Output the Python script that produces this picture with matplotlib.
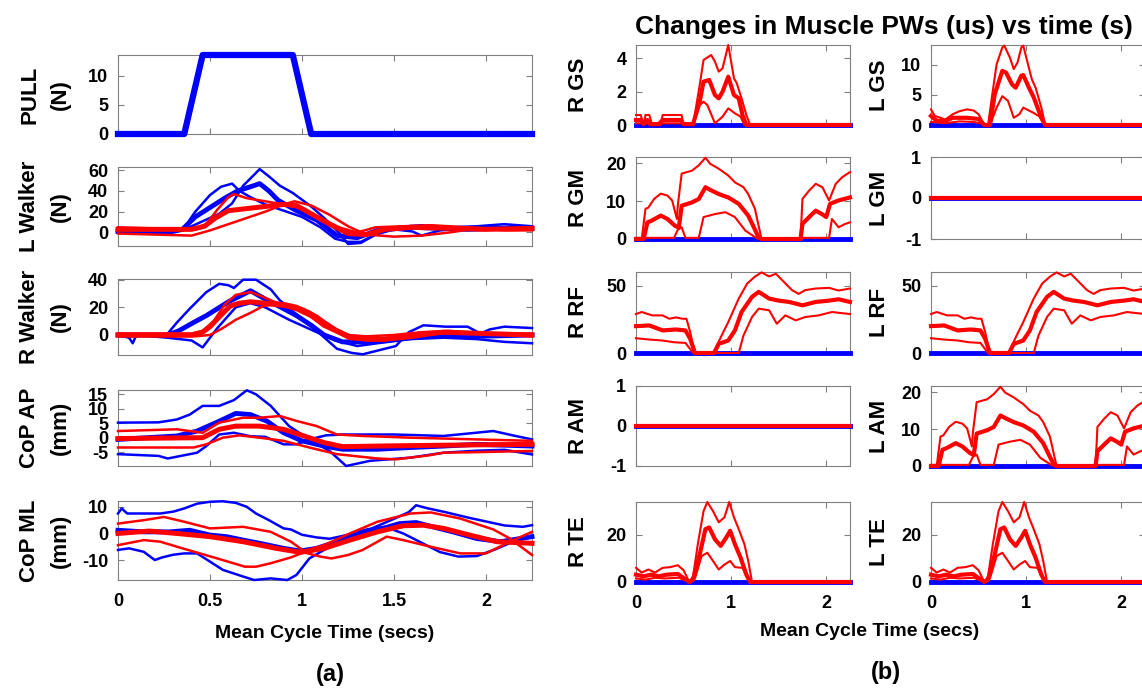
import matplotlib
matplotlib.use("Agg")
import matplotlib.pyplot as plt

plt.rcParams['font.family'] = ['Liberation Sans', 'DejaVu Sans']
plt.rcParams['font.weight'] = 'bold'
plt.rcParams['axes.unicode_minus'] = False

# ---------------- data: panel (a) ----------------
pull_t = [0, 0.36, 0.46, 0.95, 1.05, 2.25]
pull_v = [0, 0, 13.6, 13.6, 0, 0]

# L Walker (N)
lw_bm_t = [0, 0.15, 0.3, 0.35, 0.42, 0.5, 0.58, 0.65, 0.72, 0.77, 0.82, 0.87, 0.97, 1.08, 1.19, 1.3, 1.41, 1.59, 1.75, 1.9, 2.05, 2.25]
lw_bm_v = [1, 0, 1, 3, 15, 24, 33, 40, 44, 47, 40, 31, 21, 12, -3, -5, 2, 5, 4, 3, 4, 4]
lw_b1_t = [0, 0.2, 0.35, 0.45, 0.55, 0.62, 0.68, 0.72, 0.77, 0.82, 0.88, 0.95, 1.05, 1.12, 1.2, 1.25, 1.32, 1.4, 1.5, 1.65, 1.8, 1.95, 2.1, 2.25]
lw_b1_v = [2, 1, 2, 10, 18, 28, 45, 52, 61, 54, 45, 38, 25, 14, 0, -11, -10, -2, 5, 7, 5, 6, 8, 6]
lw_b2_t = [0, 0.2, 0.35, 0.42, 0.5, 0.56, 0.62, 0.66, 0.72, 0.8, 0.9, 1.0, 1.1, 1.18, 1.25, 1.32, 1.4, 1.5, 1.6, 1.65, 1.75, 1.9, 2.05, 2.25]
lw_b2_v = [0, -1, 2, 20, 36, 44, 47, 40, 34, 27, 21, 15, 5, -6, -9, -9, -2, 3, 1, -3, 2, 4, 5, 6]
lw_rm_t = [0, 0.2, 0.4, 0.47, 0.53, 0.6, 0.7, 0.8, 0.9, 0.97, 1.05, 1.15, 1.25, 1.35, 1.45, 1.6, 1.8, 2.0, 2.25]
lw_rm_v = [3, 3, 3, 6, 14, 21, 23, 25, 27, 26, 18, 8, -1, -2, 3, 5, 4, 3, 4]
lw_r1_t = [0, 0.2, 0.42, 0.48, 0.54, 0.6, 0.63, 0.7, 0.8, 0.9, 1.0, 1.1, 1.2, 1.3, 1.4, 1.55, 1.7, 1.9, 2.1, 2.25]
lw_r1_v = [5, 4, 4, 8, 22, 34, 37, 33, 30, 27, 23, 14, 5, 0, 5, 6, 7, 5, 3, 5]
lw_r2_t = [0, 0.2, 0.4, 0.5, 0.6, 0.7, 0.8, 0.9, 0.96, 1.05, 1.15, 1.25, 1.35, 1.5, 1.65, 1.8, 1.95, 2.1, 2.25]
lw_r2_v = [-1, -2, -3, 2, 8, 14, 20, 27, 30, 26, 17, 6, -2, -4, -3, 0, 4, 2, 2]

# R Walker (N)
rw_bm_t = [0, 0.27, 0.33, 0.41, 0.48, 0.54, 0.6, 0.66, 0.72, 0.8, 0.9, 0.97, 1.05, 1.12, 1.22, 1.35, 1.45, 1.59, 1.77, 1.95, 2.25]
rw_bm_v = [0, 0, 3, 9, 14, 19, 24, 28, 32, 26, 19, 14, 7, 0, -5, -5, -4, -2, 0, -1, 0]
rw_b1_t = [0, 0.2, 0.27, 0.32, 0.39, 0.48, 0.55, 0.6, 0.63, 0.68, 0.75, 0.83, 0.88, 0.97, 1.08, 1.19, 1.27, 1.33, 1.42, 1.51, 1.58, 1.66, 1.78, 1.9, 1.97, 2.02, 2.1, 2.25]
rw_b1_v = [0, 0, 1, 9, 19, 31, 37, 36, 34, 40, 40, 33, 25, 15, 3, -10, -13, -14, -11, -8, 2, 7, 6, 6, 1, 4, 6, 5]
rw_b2_t = [0, 0.06, 0.08, 0.1, 0.27, 0.4, 0.46, 0.54, 0.6, 0.64, 0.72, 0.8, 0.93, 1.08, 1.18, 1.3, 1.41, 1.59, 1.77, 1.95, 2.1, 2.25]
rw_b2_v = [0, -2, -6, 0, -2, -4, -9, 5, 14, 20, 23, 20, 11, 2, -4, -8, -6, -3, -2, -3, -5, -6]
rw_rm_t = [0, 0.4, 0.46, 0.5, 0.55, 0.61, 0.66, 0.72, 0.8, 0.86, 0.92, 0.97, 1.05, 1.12, 1.2, 1.26, 1.35, 1.45, 1.59, 1.77, 2.0, 2.25]
rw_rm_v = [0, 0, 2, 6, 13, 21, 23, 24, 23, 22, 21, 19, 14, 7, 2, -2, -3, -3, 0, 2, 1, 0]
rw_r1_t = [0, 0.4, 0.46, 0.52, 0.58, 0.64, 0.72, 0.78, 0.85, 0.92, 1.0, 1.08, 1.16, 1.25, 1.35, 1.5, 1.65, 1.8, 2.0, 2.25]
rw_r1_v = [1, 1, 3, 10, 22, 29, 31, 28, 24, 22, 19, 14, 6, 0, -1, 0, 2, 3, 1, 1]
rw_r2_t = [0, 0.42, 0.5, 0.57, 0.64, 0.72, 0.79, 0.86, 0.9, 0.97, 1.04, 1.12, 1.19, 1.27, 1.35, 1.45, 1.6, 1.75, 1.9, 2.1, 2.25]
rw_r2_v = [-1, -1, 0, 5, 11, 16, 21, 22, 23, 21, 17, 10, 4, -1, -4, -4, -2, 1, 2, 0, -1]

# CoP AP (mm)
ap_bm_t = [0, 0.32, 0.43, 0.55, 0.64, 0.72, 0.81, 0.9, 1.0, 1.12, 1.22, 1.41, 1.59, 1.77, 1.95, 2.25]
ap_bm_v = [-0.6, 0.6, 2.3, 5.7, 8.4, 8.0, 5.7, 1.7, -1.1, -2.9, -4, -4, -3.4, -2.9, -2.3, -2.9]
ap_b1_t = [0, 0.22, 0.32, 0.39, 0.46, 0.55, 0.63, 0.7, 0.75, 0.83, 0.93, 1.04, 1.15, 1.24, 1.37, 1.59, 1.77, 1.95, 2.1, 2.25]
ap_b1_v = [5.2, 5.3, 6.3, 8, 11, 11, 13, 16.4, 15, 11, 4, -0.6, -4.6, -9.8, -8, -6.9, -5.2, -4.5, -4.2, -5.8]
ap_b2_t = [0, 0.22, 0.27, 0.43, 0.48, 0.55, 0.63, 0.72, 0.8, 0.9, 0.97, 1.04, 1.13, 1.22, 1.5, 1.77, 2.04, 2.16, 2.25]
ap_b2_v = [-5.7, -6.3, -7.2, -5.2, -2.9, 1.1, 1.7, 0.5, 0.3, -2.3, -2.3, -0.6, 0.8, 1.1, 1.1, 0.6, 2.3, 0.6, -0.6]
ap_rm_t = [0, 0.46, 0.55, 0.64, 0.77, 0.9, 1.01, 1.12, 1.22, 1.41, 1.77, 2.25]
ap_rm_v = [-0.3, 0, 2.9, 4, 4, 2.9, 0.6, -1.7, -3.1, -2.9, -2.6, -2.3]
ap_r1_t = [0, 0.32, 0.46, 0.55, 0.68, 0.77, 0.88, 0.97, 1.08, 1.19, 1.33, 1.59, 1.77, 1.95, 2.25]
ap_r1_v = [2.3, 2.9, 1.7, 5.2, 6.9, 6.9, 7.5, 5.8, 4, 1.1, 0.6, 0, -0.3, -0.6, -1.1]
ap_r2_t = [0, 0.41, 0.48, 0.57, 0.66, 0.77, 0.9, 1.04, 1.19, 1.41, 1.51, 1.68, 1.77, 1.95, 2.25]
ap_r2_v = [-3.4, -3.4, -2.3, 0, 0.8, 0, -1.1, -3.4, -5.7, -7.2, -7.5, -6.2, -5.2, -5, -4.6]

# CoP ML (mm)
ml_bm_t = [0, 0.14, 0.28, 0.39, 0.5, 0.59, 0.68, 0.77, 0.9, 0.99, 1.08, 1.19, 1.32, 1.44, 1.53, 1.62, 1.71, 1.82, 1.95, 2.08, 2.25]
ml_bm_v = [1.2, 0.6, 0.6, 1.2, -0.6, -1.2, -2.5, -3.7, -5.6, -6.6, -5.6, -3.1, 0, 1.9, 3.7, 4.1, 2.5, 0.6, -1.9, -3.1, -1.2]
ml_b1_t = [0, 0.02, 0.05, 0.14, 0.23, 0.3, 0.36, 0.43, 0.5, 0.57, 0.64, 0.7, 0.75, 0.82, 0.9, 0.94, 1.0, 1.08, 1.15, 1.25, 1.35, 1.45, 1.55, 1.65, 1.75, 1.85, 1.95, 2.05, 2.15, 2.25]
ml_b1_v = [7.5, 9.4, 7.5, 7.5, 7.5, 8.2, 9.4, 11.2, 11.9, 12.1, 11.5, 10, 7.5, 5, 1.9, 1.5, -0.5, -1.5, -2, -0.5, 1.5, 2.5, 0, -3.5, -7, -8.7, -8.5, -6, -3, -1.2]
ml_b2_t = [0, 0.06, 0.14, 0.2, 0.24, 0.3, 0.36, 0.43, 0.5, 0.57, 0.68, 0.74, 0.83, 0.92, 0.97, 1.04, 1.12, 1.25, 1.4, 1.5, 1.58, 1.62, 1.68, 1.78, 1.9, 2.0, 2.1, 2.2, 2.25]
ml_b2_v = [-6.2, -5.6, -6.9, -10, -9, -8, -7.5, -7.5, -10.6, -13.7, -16.2, -17.5, -16.9, -17.5, -15.6, -9.4, -6.2, -2, 2.5, 5.5, 8, 10.6, 9.5, 8, 6, 4.5, 3, 2.5, 3.1]
ml_rm_t = [0, 0.17, 0.32, 0.5, 0.68, 0.86, 0.99, 1.12, 1.26, 1.41, 1.55, 1.66, 1.77, 1.91, 2.06, 2.25]
ml_rm_v = [0, 0.9, 0, -1.2, -3.1, -5.6, -7.1, -5.6, -2.5, 0.6, 2.9, 3.1, 1.9, -0.6, -3.1, -3.7]
ml_r1_t = [0, 0.14, 0.25, 0.36, 0.5, 0.68, 0.83, 0.94, 1.01, 1.12, 1.26, 1.41, 1.59, 1.7, 1.86, 2.04, 2.13, 2.25]
ml_r1_v = [3.7, 5, 6.2, 4.4, 1.9, 2.5, 0.6, -3.1, -6.6, -4.4, 0, 4.4, 7.5, 7.9, 5.6, 1.5, -1.9, -8.1]
ml_r2_t = [0, 0.14, 0.23, 0.35, 0.54, 0.69, 0.75, 0.83, 0.94, 1.01, 1.1, 1.16, 1.25, 1.33, 1.46, 1.55, 1.7, 1.86, 2.0, 2.13, 2.25]
ml_r2_v = [-4.4, -2.5, -3.1, -5.6, -9.4, -12.5, -12.5, -11.2, -9, -7.1, -8.7, -9.4, -8.1, -6.2, -1.2, -2.5, -5, -7.5, -7.5, -3.1, 0.6]

# ---------------- data: panel (b), muscle PWs ----------------
zero_t = [0, 2.25]
zero_v = [0, 0]

gs_r_up_t = [0, 0.05, 0.08, 0.1, 0.14, 0.17, 0.26, 0.28, 0.48, 0.5, 0.6, 0.67, 0.71, 0.79, 0.83, 0.87, 0.91, 0.97, 1.03, 1.06, 1.12, 1.16, 1.2, 2.25]
gs_r_up_v = [0.6, 0.6, 0, 0.6, 0.6, 0, 0, 0.6, 0.6, 0, 0, 2.4, 3.9, 4.2, 3.8, 3.2, 3.4, 4.8, 2.8, 2.5, 1.4, 0.6, 0, 0]
gs_r_mn_t = [0, 0.05, 0.08, 0.12, 0.15, 0.24, 0.28, 0.47, 0.5, 0.6, 0.67, 0.71, 0.77, 0.83, 0.87, 0.91, 0.97, 1.03, 1.08, 1.12, 1.16, 2.25]
gs_r_mn_v = [0.3, 0.3, 0.05, 0.3, 0.05, 0.05, 0.3, 0.3, 0.05, 0.05, 1.4, 2.6, 2.7, 1.8, 1.6, 2.0, 2.9, 1.8, 1.6, 0.6, 0, 0]
gs_r_lo_t = [0, 0.6, 0.67, 0.71, 0.75, 0.83, 0.91, 0.97, 1.04, 1.1, 1.14, 2.25]
gs_r_lo_v = [0.1, 0.1, 1.2, 1.4, 1.2, 0.1, 0.5, 1.0, 0.7, 0.5, 0, 0]

gs_l_up_t = [0, 0.04, 0.1, 0.15, 0.23, 0.3, 0.38, 0.45, 0.5, 0.56, 0.6, 0.64, 0.69, 0.75, 0.77, 0.83, 0.87, 0.91, 0.95, 0.97, 1.01, 1.06, 1.1, 1.16, 1.2, 2.25]
gs_l_up_v = [2.6, 1.5, 1.2, 0.9, 1.8, 2.3, 2.6, 2.4, 1.8, 0, 0, 4.6, 10.1, 12.9, 13.2, 11.2, 9.3, 10.4, 12.9, 13.2, 10.7, 7.6, 6.2, 2.9, 0, 0]
gs_l_mn_t = [0, 0.06, 0.15, 0.23, 0.38, 0.5, 0.56, 0.62, 0.67, 0.75, 0.79, 0.85, 0.89, 0.95, 0.97, 1.03, 1.08, 1.16, 1.2, 2.25]
gs_l_mn_v = [1.5, 0.7, 0.7, 1.2, 1.2, 1.0, 0, 0, 5.1, 9.0, 8.7, 6.8, 6.2, 8.2, 8.3, 6.2, 4.6, 1.2, 0, 0]
gs_l_lo_t = [0, 0.15, 0.3, 0.45, 0.55, 0.62, 0.69, 0.75, 0.81, 0.87, 0.93, 0.97, 1.03, 1.08, 1.14, 1.2, 2.25]
gs_l_lo_v = [0.5, 0.3, 0.6, 0.5, 0.2, 0, 2.9, 4.8, 4.0, 1.2, 1.8, 2.9, 2.4, 2.0, 1.4, 0, 0]

# R GM and L AM share the same profile
gm_up_t = [0, 0.06, 0.1, 0.13, 0.19, 0.26, 0.33, 0.38, 0.43, 0.44, 0.48, 0.59, 0.66, 0.73, 0.78, 0.87, 0.97, 1.04, 1.13, 1.18, 1.25, 1.32, 1.73, 1.75, 1.82, 1.89, 1.96, 2.03, 2.1, 2.17, 2.25]
gm_up_v = [0, 0, 8, 8.3, 10.6, 12, 11.5, 10.2, 5.3, 9, 17.3, 18.1, 19.5, 21.5, 19.9, 18.6, 16.8, 15, 13.7, 11.9, 8, 0, 0, 10.6, 12.8, 14.6, 13.7, 10.2, 14.6, 16.4, 17.7]
gm_mn_t = [0, 0.08, 0.12, 0.16, 0.26, 0.33, 0.41, 0.45, 0.48, 0.59, 0.66, 0.73, 0.78, 0.87, 0.97, 1.08, 1.18, 1.29, 1.32, 1.73, 1.75, 1.82, 1.89, 1.96, 2.0, 2.04, 2.13, 2.25]
gm_mn_v = [0, 0, 4.4, 4.8, 6.2, 5.3, 3.5, 3.0, 8.8, 9.7, 10.6, 13.7, 13.0, 11.9, 11.0, 9.3, 6.2, 0.4, 0, 0, 4.0, 5.8, 7.5, 6.5, 5.8, 9.3, 10.2, 11.0]
gm_lo_t = [0, 0.4, 0.44, 0.48, 0.52, 0.66, 0.71, 0.83, 0.94, 1.04, 1.15, 1.27, 1.32, 1.73, 1.76, 2.03, 2.06, 2.13, 2.2, 2.25]
gm_lo_v = [0.3, 0.3, 2.5, 3.1, 0.3, 0.3, 5.8, 6.6, 7.1, 5.8, 2.2, 0.2, 0, 0, 0.3, 0.3, 5.3, 3.1, 4.0, 4.4]

# R RF and L RF
rf_up_t = [0, 0.06, 0.17, 0.28, 0.35, 0.42, 0.49, 0.53, 0.57, 0.61, 0.63, 0.82, 0.85, 0.9, 0.97, 1.08, 1.17, 1.25, 1.32, 1.4, 1.47, 1.54, 1.64, 1.71, 1.78, 1.89, 2.03, 2.13, 2.25]
rf_up_v = [29, 30.5, 28, 28, 25.5, 26.5, 25.5, 25.5, 15.5, 1.8, 0, 0, 5.5, 13, 23, 40.5, 51.8, 56.8, 60, 57, 59, 54, 46.8, 44, 46.8, 48, 48.5, 46.5, 48]
rf_mn_t = [0, 0.14, 0.28, 0.42, 0.52, 0.57, 0.62, 0.82, 0.87, 0.97, 1.04, 1.11, 1.22, 1.29, 1.4, 1.5, 1.61, 1.75, 1.89, 2.03, 2.13, 2.25]
rf_mn_v = [20, 20.5, 16.8, 17.5, 16.8, 10.5, 0, 0, 6.8, 9.3, 16.8, 30.5, 41.8, 45.5, 40.5, 39, 38, 35.5, 38, 39, 40, 38]
rf_lo_t = [0, 0.14, 0.28, 0.4, 0.52, 0.6, 1.08, 1.13, 1.22, 1.29, 1.4, 1.48, 1.57, 1.68, 1.78, 1.92, 2.06, 2.25]
rf_lo_v = [11, 10, 9.3, 8, 7.5, 0, 0, 13, 26.8, 33, 31.8, 21.8, 28, 24.3, 26.8, 28, 30.5, 29]

# R TE and L TE
te_up_t = [0, 0.06, 0.13, 0.2, 0.28, 0.36, 0.44, 0.5, 0.56, 0.6, 0.65, 0.71, 0.75, 0.81, 0.87, 0.93, 0.98, 1.03, 1.08, 1.14, 1.18, 1.22, 2.25]
te_up_v = [6, 4, 5.3, 4, 6, 6.3, 7.1, 5, 0, 2.4, 16, 30, 33.9, 30, 25.3, 27.4, 33.9, 27.4, 22.4, 16, 8.9, 0, 0]
te_mn_t = [0, 0.08, 0.16, 0.24, 0.32, 0.44, 0.5, 0.56, 0.6, 0.67, 0.73, 0.77, 0.83, 0.89, 0.95, 0.99, 1.04, 1.1, 1.16, 1.2, 2.25]
te_mn_v = [3.1, 2.4, 3.1, 2.4, 3.1, 3.4, 1.7, 0, 1, 11.7, 22.4, 23.1, 18.1, 15.3, 18.9, 21.7, 16, 10.3, 3.1, 0, 0]
te_lo_t = [0, 0.1, 0.2, 0.3, 0.45, 0.56, 0.62, 0.69, 0.75, 0.81, 0.87, 0.93, 0.99, 1.04, 1.12, 1.16, 1.2, 2.25]
te_lo_v = [1.5, 1, 1.8, 1.5, 1.8, 0, 1.5, 11, 12.4, 8.9, 5.3, 7.4, 8.9, 6.3, 6, 3, 0, 0]

BLUE = (0, 0, 1)
RED = (1, 0, 0)
GRID_GRAY = '#808080'
W, H = 1142, 691


def px_rect(left, top, right, bottom):
    return [left / W, 1 - bottom / H, (right - left) / W, (bottom - top) / H]


def style(ax, ylim, yticks, xticks, xlabels):
    ax.set_xlim(0, 2.25)
    ax.set_ylim(*ylim)
    ax.set_yticks(yticks)
    ax.set_yticklabels([f'{v:g}' for v in yticks])
    ax.set_xticks(xticks)
    if xlabels:
        ax.set_xticklabels([f'{v:g}' for v in xticks])
    else:
        ax.set_xticklabels([])
    for s in ax.spines.values():
        s.set_color(GRID_GRAY)
        s.set_linewidth(0.8)
    ax.tick_params(direction='in', length=4, width=0.8, color=GRID_GRAY,
                   top=True, right=True, labelsize=13)
    ax.tick_params(axis='y', pad=7)
    ax.tick_params(axis='x', pad=9)
    for lab in ax.get_xticklabels() + ax.get_yticklabels():
        lab.set_fontweight('bold')


def draw(ax, t, v, color, lw):
    # lines sit above the grey box, as in the source figure
    ax.plot(t, v, color=color, lw=lw, clip_on=False, solid_joinstyle='round',
            zorder=3)


fig = plt.figure(figsize=(W / 100, H / 100), dpi=100)

# ---------------- panel (a) ----------------
L0, L1 = 118, 532
left_rows = [(55, 134), (167, 246), (279, 355), (390, 466), (501, 580)]
left_labels = ['PULL\n(N)', 'L Walker\n(N)', 'R Walker\n(N)', 'CoP AP\n(mm)', 'CoP ML\n(mm)']
left_xt = [0, 0.5, 1, 1.5, 2]

ax = fig.add_axes(px_rect(L0, left_rows[0][0], L1, left_rows[0][1]))
draw(ax, pull_t, pull_v, BLUE, 4.5)
style(ax, (0, 13.6), [0, 5, 10], left_xt, False)

panels = [
    ((-13, 63), [0, 20, 40, 60],
     [(lw_b1_t, lw_b1_v), (lw_b2_t, lw_b2_v)], (lw_bm_t, lw_bm_v),
     [(lw_r1_t, lw_r1_v), (lw_r2_t, lw_r2_v)], (lw_rm_t, lw_rm_v)),
    ((-14.5, 40.5), [0, 20, 40],
     [(rw_b1_t, rw_b1_v), (rw_b2_t, rw_b2_v)], (rw_bm_t, rw_bm_v),
     [(rw_r1_t, rw_r1_v), (rw_r2_t, rw_r2_v)], (rw_rm_t, rw_rm_v)),
    ((-9.8, 16.5), [-5, 0, 5, 10, 15],
     [(ap_b1_t, ap_b1_v), (ap_b2_t, ap_b2_v)], (ap_bm_t, ap_bm_v),
     [(ap_r1_t, ap_r1_v), (ap_r2_t, ap_r2_v)], (ap_rm_t, ap_rm_v)),
    ((-17.5, 12.2), [-10, 0, 10],
     [(ml_b1_t, ml_b1_v), (ml_b2_t, ml_b2_v)], (ml_bm_t, ml_bm_v),
     [(ml_r1_t, ml_r1_v), (ml_r2_t, ml_r2_v)], (ml_rm_t, ml_rm_v)),
]
for i, (ylim, yt, blues, bmean, reds, rmean) in enumerate(panels):
    top, bot = left_rows[i + 1]
    ax = fig.add_axes(px_rect(L0, top, L1, bot))
    for t, v in blues:
        draw(ax, t, v, BLUE, 1.8)
    draw(ax, *bmean, BLUE, 3.5)
    for t, v in reds:
        draw(ax, t, v, RED, 1.8)
    draw(ax, *rmean, RED, 3.6)
    style(ax, ylim, yt, left_xt, i == 3)

for (top, bot), lab in zip(left_rows, left_labels):
    fig.text(45 / W, 1 - (top + bot) / 2 / H, lab, rotation=90, ha='center',
             va='center', fontsize=16, fontweight='bold', linespacing=1.6)

fig.text(325 / W, 1 - 634 / H, 'Mean Cycle Time (secs)', ha='center',
         va='center', fontsize=14, fontweight='bold')
fig.text(330 / W, 1 - 674 / H, '(a)', ha='center', va='center',
         fontsize=17, fontweight='bold')

# ---------------- panel (b) ----------------
R_cols = [(636, 850), (931, 1145)]
right_rows = [(45, 125), (157, 239), (272, 353), (386, 466), (502, 582)]
right_xt = [0, 1, 2]

gs_r = ((gs_r_up_t, gs_r_up_v), (gs_r_mn_t, gs_r_mn_v), (gs_r_lo_t, gs_r_lo_v))
gs_l = ((gs_l_up_t, gs_l_up_v), (gs_l_mn_t, gs_l_mn_v), (gs_l_lo_t, gs_l_lo_v))
gm = ((gm_up_t, gm_up_v), (gm_mn_t, gm_mn_v), (gm_lo_t, gm_lo_v))
rf = ((rf_up_t, rf_up_v), (rf_mn_t, rf_mn_v), (rf_lo_t, rf_lo_v))
te = ((te_up_t, te_up_v), (te_mn_t, te_mn_v), (te_lo_t, te_lo_v))

right_panels = [
    [('R GS', gs_r, (0, 4.8), [0, 2, 4]), ('L GS', gs_l, (0, 13.3), [0, 5, 10])],
    [('R GM', gm, (0, 21.7), [0, 10, 20]), ('L GM', None, (-1, 1), [-1, 0, 1])],
    [('R RF', rf, (0, 60.3), [0, 50]), ('L RF', rf, (0, 60.3), [0, 50])],
    [('R AM', None, (-1, 1), [-1, 0, 1]), ('L AM', gm, (0, 21.7), [0, 10, 20])],
    [('R TE', te, (0, 33.9), [0, 20]), ('L TE', te, (0, 33.9), [0, 20])],
]
label_x = [579, 880]

for r, row in enumerate(right_panels):
    top, bot = right_rows[r]
    for c, (name, lines, ylim, yt) in enumerate(row):
        x0, x1 = R_cols[c]
        ax = fig.add_axes(px_rect(x0, top, x1, bot))
        draw(ax, zero_t, zero_v, BLUE, 3.5)
        if lines is None:
            draw(ax, zero_t, zero_v, RED, 3)
        else:
            up, mn, lo = lines
            draw(ax, *up, RED, 1.5)
            draw(ax, *lo, RED, 1.5)
            draw(ax, *mn, RED, 3)
        style(ax, ylim, yt, right_xt, r == 4)
        fig.text(label_x[c] / W, 1 - (top + bot) / 2 / H, name, rotation=90,
                 ha='center', va='center', fontsize=16, fontweight='bold')

fig.text(884 / W, 1 - 27 / H, 'Changes in Muscle PWs (us) vs time (s)',
         ha='center', va='center', fontsize=19, fontweight='bold')
fig.text(870 / W, 1 - 632 / H, 'Mean Cycle Time (secs)', ha='center',
         va='center', fontsize=14, fontweight='bold')
fig.text(886 / W, 1 - 673 / H, '(b)', ha='center', va='center',
         fontsize=17, fontweight='bold')

fig.savefig('out.png', dpi=100)
